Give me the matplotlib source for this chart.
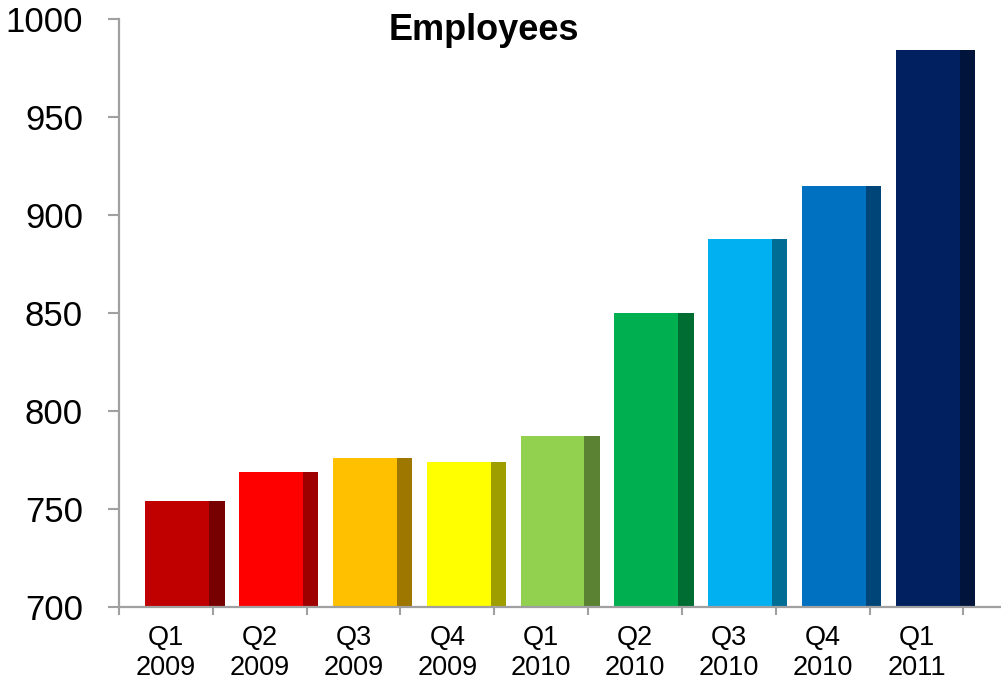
import numpy as np
import matplotlib
matplotlib.use("Agg")
import matplotlib.pyplot as plt
from matplotlib.colors import to_rgb

quarters = ["Q1\n2009", "Q2\n2009", "Q3\n2009", "Q4\n2009", "Q1\n2010",
            "Q2\n2010", "Q3\n2010", "Q4\n2010", "Q1\n2011"]
employees = [754, 769, 776, 774, 787, 850, 888, 915, 984]
colors = ["#C00000", "#FF0000", "#FFC000", "#FFFF00", "#92D050",
          "#00B050", "#00B0F0", "#0070C0", "#002060"]
y_ticks = [700, 750, 800, 850, 900, 950, 1000]


def darker(c, f=0.62):
    r, g, b = to_rgb(c)
    return (r * f, g * f, b * f)


def main():
    plt.rcParams["font.family"] = ["Liberation Sans", "DejaVu Sans"]
    fig = plt.figure(figsize=(10.01, 6.81), dpi=100)
    ax = fig.add_axes([119 / 1001, 1 - 607 / 681, 881 / 1001, 588 / 681])

    x = np.arange(len(employees))
    ax.bar(x + 0.28, employees, width=0.68, align="edge", color=colors,
           edgecolor="none", zorder=2)
    ax.bar(x + 0.96, employees, width=0.165, align="edge",
           color=[darker(c) for c in colors], edgecolor="none", zorder=2)

    ax.set_xlim(0, 9.39)
    ax.set_ylim(700, 1000)

    gray = "#a0a0a0"
    for side in ["top", "right"]:
        ax.spines[side].set_visible(False)
    for side in ["left", "bottom"]:
        ax.spines[side].set_color(gray)
        ax.spines[side].set_linewidth(1.6)
        ax.spines[side].set_zorder(3)

    ax.set_yticks(y_ticks)
    ax.tick_params(axis="y", direction="out", length=8, width=1.5,
                   color=gray, labelsize=25, pad=18)

    ax.set_xticks(np.arange(len(employees) + 1))
    ax.set_xticklabels([])
    ax.set_xticks(x + 0.5, minor=True)
    ax.set_xticklabels(quarters, minor=True, fontsize=19.5, linespacing=1.22)
    ax.tick_params(axis="x", which="major", direction="out", length=6,
                   width=1.5, color=gray)
    ax.tick_params(axis="x", which="minor", length=0, pad=13)

    fig.text(484 / 1001, 1 - 31 / 681, "Employees", fontsize=26,
             fontweight="bold", ha="center", va="center")

    fig.savefig("out.png", dpi=100)


if __name__ == "__main__":
    main()
